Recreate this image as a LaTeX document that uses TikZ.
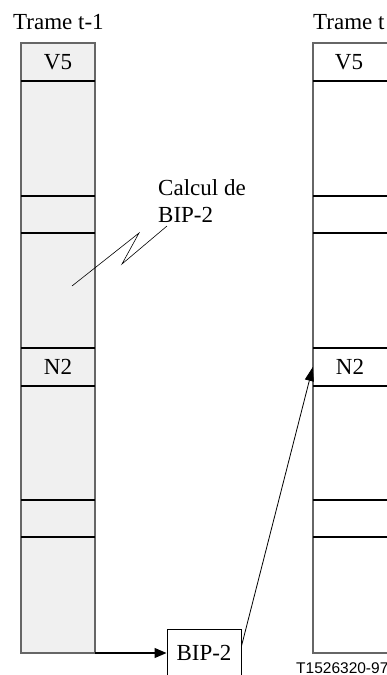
\documentclass[tikz,border=0pt]{standalone}
\usepackage{fontspec}
\setmainfont{Liberation Serif}
\newfontfamily\lblfont{Liberation Sans}
\usetikzlibrary{arrows.meta}
\tikzset{
  col/.style={draw=black!60,line width=1.2pt,minimum height=610pt,inner sep=0pt,outer sep=0pt,anchor=north west},
  cell/.style={minimum width=74pt,minimum height=38pt,inner sep=0pt,font=\fontsize{23}{27}\selectfont},
  sep/.style={line width=1.3pt},
  ptr/.style={line width=1.2pt,-{Triangle[length=12pt,width=10pt]}},
  lnk/.style={line width=0.8pt,-{Triangle[length=14pt,width=9pt]}},
  zig/.style={line width=0.6pt},
  ttl/.style={font=\fontsize{23}{27}\selectfont,anchor=base west,inner sep=0pt}
}
\newcommand{\seps}[2]{\foreach \y in {81,196,233,348,386,500,537} {\draw[sep] (#1,\y) -- (#2,\y);}}

\begin{document}
\begin{tikzpicture}[x=1pt,y=-1pt]
\useasboundingbox (0,0) rectangle (387,675);
% trame t-1
\node[col,fill=black!6,minimum width=74pt] (colL) at (21,43) {};
\seps{21}{95}
\node[ttl] (tL) at (13,29) {Trame t-1};
\node[cell] (v5L) at (58,62) {V5};
\node[cell] (n2L) at (58,367) {N2};
% trame t
\node[col,minimum width=78pt] (colR) at (313,43) {};
\seps{313}{390}
\node[ttl] (tR) at (313,29) {Trame t};
\node[cell] (v5R) at (349,62) {V5};
\node[cell] (n2R) at (350,367) {N2};
% calcul
\node[ttl] (calc) at (158,195) {Calcul de};
\node[ttl] (calcb) at (158,222) {BIP-2};
\coordinate (zs) at (72,286);
\draw[zig] (zs) -- (139,233) -- (122,264) -- (167,226);
\node[draw,line width=1pt,minimum width=74pt,minimum height=48pt,inner sep=0pt,font=\fontsize{23}{27}\selectfont] (bip) at (204,653) {BIP-2};
\draw[ptr] (colL.south east) -- (colL.south east -| bip.west);
\draw[lnk] ([yshift=7pt]bip.east) -- (n2R.west);
\node[font=\lblfont\fontsize{15.5}{18}\selectfont,anchor=base west,inner sep=0pt] (ref) at (296,673) {T1526320-97};
\end{tikzpicture}
\end{document}
